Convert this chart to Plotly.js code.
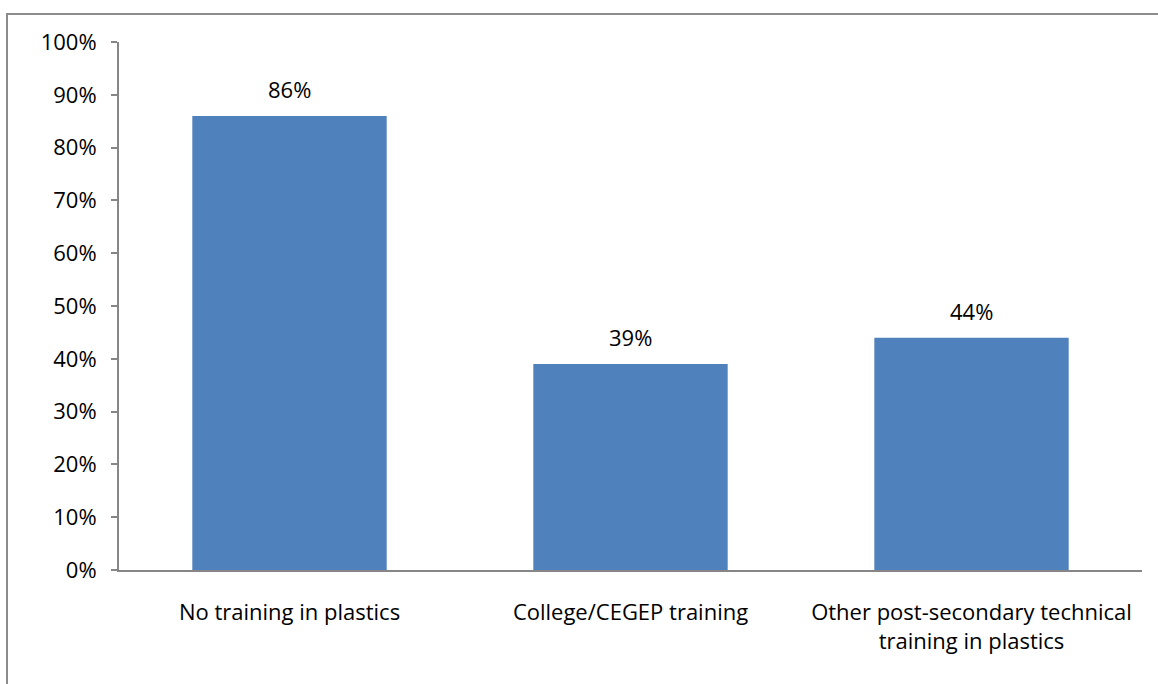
<!DOCTYPE html>
<html>
<head>
<meta charset="utf-8">
<script src="https://cdn.plot.ly/plotly-3.0.1.min.js"></script>
<style>
html,body{margin:0;padding:0;background:#fff;overflow:hidden;}
#frame{position:absolute;left:6px;top:13px;width:1170px;height:690px;border:2px solid #8c8c8c;box-sizing:border-box;}
#chart{position:absolute;left:0;top:0;width:1158px;height:684px;}
</style>
</head>
<body>
<div id="frame"></div>
<div id="chart"></div>
<script>
const categories = ["No training in plastics", "College/CEGEP training", "Other post-secondary technical<br>training in plastics"];
const values = [0.86, 0.39, 0.44];
const labels = ["86%", "39%", "44%"];
const yTicks = [0, 0.1, 0.2, 0.3, 0.4, 0.5, 0.6, 0.7, 0.8, 0.9, 1.0];
const yTickLabels = ["0%", "10%", "20%", "30%", "40%", "50%", "60%", "70%", "80%", "90%", "100%"];

const font = {family: "Open Sans, Liberation Sans, sans-serif", size: 22, color: "#000"};

const annotations = categories.map((c, i) => ({
  x: c, y: values[i], xref: "x", yref: "y",
  text: labels[i], showarrow: false,
  yanchor: "bottom", yshift: 10, font: font
}));

Plotly.newPlot("chart", [{
  type: "bar",
  x: categories,
  y: values,
  marker: {color: "#4F81BD"},
  hoverinfo: "none"
}], {
  width: 1158, height: 684,
  margin: {l: 119, r: 16, t: 42, b: 114},
  paper_bgcolor: "rgba(0,0,0,0)",
  plot_bgcolor: "rgba(0,0,0,0)",
  bargap: 0.43,
  showlegend: false,
  font: font,
  annotations: annotations,
  xaxis: {
    showline: true, linecolor: "#868686", linewidth: 2,
    ticks: "", showgrid: false, tickfont: font,
    ticklabelstandoff: 22,
    automargin: false
  },
  yaxis: {
    range: [0, 1], tickvals: yTicks, ticktext: yTickLabels,
    showline: true, linecolor: "#868686", linewidth: 2,
    ticks: "outside", ticklen: 6, tickcolor: "#868686", tickwidth: 2,
    showgrid: false, zeroline: false, tickfont: font, ticklabelstandoff: 10,
    automargin: false
  }
}, {staticPlot: true});
</script>
</body>
</html>
